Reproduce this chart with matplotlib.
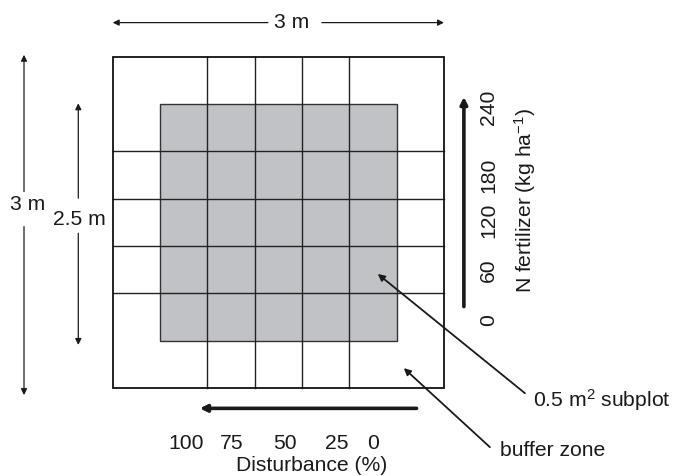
import matplotlib
matplotlib.use('Agg')
import matplotlib.pyplot as plt
import matplotlib.patches as mpatches

plt.rcParams['font.family'] = ['Liberation Sans', 'DejaVu Sans']
plt.rcParams['mathtext.fontset'] = 'custom'
plt.rcParams['mathtext.rm'] = 'Liberation Sans'
plt.rcParams['mathtext.it'] = 'Liberation Sans:italic'

# ── Datos del diseno experimental ────────────────────────────────────────────
DISTURBANCE = [100, 75, 50, 25, 0]          # %
N_RATES = [0, 60, 120, 180, 240]            # kg ha-1
N_SUB = 5                                   # subparcelas por lado
N_BUFFER = 1                                # celdas de borde
PLOT_LABEL = "3 m"
SUBPLOT_LABEL = "2.5 m"

# ── Posiciones (unidades = celda) ────────────────────────────────────────────
DIST_X = [1.56, 2.51, 3.64, 4.73, 5.51]
N_Y = [1.44, 2.49, 3.55, 4.50, 5.92]

TOTAL = N_SUB + 2 * N_BUFFER
FS = 15.2
INK = "#1a1a1a"
GRAY = "#c1c2c5"

fig = plt.figure(figsize=(6.73, 4.76), dpi=100, facecolor="white")
ax = fig.add_axes([0, 0, 1, 1])
cell_px = 47.33
ax.set_xlim(-112.7 / cell_px, (673 - 112.7) / cell_px)
ax.set_ylim((388 - 476) / cell_px, 388 / cell_px)
ax.axis("off")

# zona gris de subparcelas
lo, hi = N_BUFFER, N_BUFFER + N_SUB
ax.add_patch(mpatches.Rectangle((lo, lo), N_SUB, N_SUB, facecolor=GRAY,
                                edgecolor="#333333", linewidth=1.0, zorder=1))
for k in range(lo + 1, hi):
    ax.plot([k, k], [0, TOTAL], color="#222222", lw=1.0, zorder=2)
    ax.plot([0, TOTAL], [k, k], color="#222222", lw=1.0, zorder=2)
# borde exterior
ax.add_patch(mpatches.Rectangle((0, 0), TOTAL, TOTAL, facecolor="none",
                                edgecolor="#111111", linewidth=1.3, zorder=3))


def dim_arrow(p0, p1, lw=0.9, ms=9):
    ax.annotate("", xy=p1, xytext=p0,
                arrowprops=dict(arrowstyle="-|>", color=INK, lw=lw,
                                mutation_scale=ms, shrinkA=0, shrinkB=0))


# 3 m superior
dim_arrow((3.28, 7.72), (0.0, 7.72))
dim_arrow((4.42, 7.72), (7.0, 7.72))
ax.text(3.78, 7.72, PLOT_LABEL, fontsize=FS, ha="center", va="center", color=INK)

# 3 m izquierda
dim_arrow((-1.874, 4.15), (-1.874, 7.04))
dim_arrow((-1.874, 3.41), (-1.874, -0.15))
ax.text(-1.79, 3.87, PLOT_LABEL, fontsize=FS, ha="center", va="center", color=INK)

# 2.5 m
dim_arrow((-0.727, 4.01), (-0.727, 6.015))
dim_arrow((-0.727, 3.27), (-0.727, 0.91))
ax.text(-0.706, 3.55, SUBPLOT_LABEL, fontsize=FS, ha="center", va="center", color=INK)

# gradiente de N
ax.annotate("", xy=(7.42, 6.15), xytext=(7.42, 1.72),
            arrowprops=dict(arrowstyle="-|>", color=INK, lw=2.6,
                            mutation_scale=10, shrinkA=0, shrinkB=0))
for val, y in zip(N_RATES, N_Y):
    ax.text(7.94, y, str(val), fontsize=FS, rotation=90,
            ha="center", va="center", color=INK)
ax.text(8.71, 3.96, "N fertilizer (kg ha$^{-1}$)", fontsize=FS, rotation=90,
        ha="center", va="center", color=INK)

# gradiente de perturbacion
ax.annotate("", xy=(1.84, -0.43), xytext=(6.42, -0.43),
            arrowprops=dict(arrowstyle="-|>", color=INK, lw=2.6,
                            mutation_scale=10, shrinkA=0, shrinkB=0))
for val, x in zip(DISTURBANCE, DIST_X):
    ax.text(x, -1.17, str(val), fontsize=FS, ha="center", va="center", color=INK)
ax.text(4.20, -1.63, "Disturbance (%)", fontsize=FS, ha="center", va="center", color=INK)

# anotaciones
ax.annotate("", xy=(5.60, 2.41), xytext=(8.71, -0.11),
            arrowprops=dict(arrowstyle="-|>", color=INK, lw=1.3,
                            mutation_scale=10, shrinkA=0, shrinkB=0))
ax.text(8.88, -0.25, "0.5 m$^{2}$ subplot", fontsize=FS, ha="left", va="center", color=INK)
ax.annotate("", xy=(6.15, 0.42), xytext=(7.97, -1.25),
            arrowprops=dict(arrowstyle="-|>", color=INK, lw=1.3,
                            mutation_scale=10, shrinkA=0, shrinkB=0))
ax.text(8.18, -1.31, "buffer zone", fontsize=FS, ha="left", va="center", color=INK)

fig.savefig("out.png", dpi=100, facecolor="white")
